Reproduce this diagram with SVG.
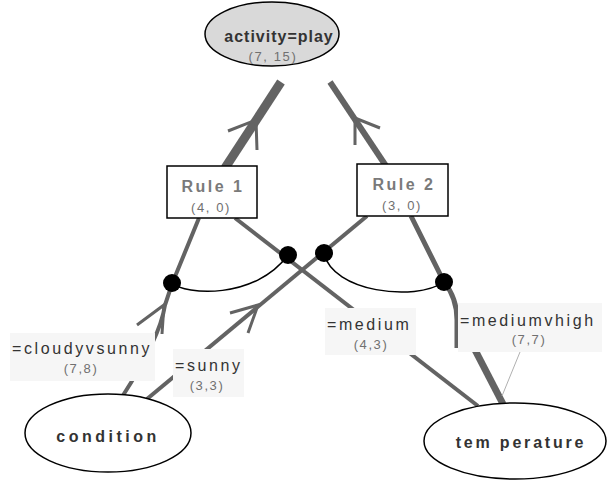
<svg xmlns="http://www.w3.org/2000/svg" width="608" height="481" viewBox="0 0 608 481">
<style>
.edge{fill:none;stroke:#636363}
.chev{fill:none;stroke:#636363;stroke-width:3}
.arc{fill:none;stroke:#000;stroke-width:1.5}
.dot{fill:#000}
.lbl{fill:#f6f6f6}
.lead{stroke:#b0b0b0;stroke-width:1}
.ell{fill:#fff;stroke:#000;stroke-width:1.5}
.box{fill:#fff;stroke:#000;stroke-width:1.5}
text{font-family:"Liberation Sans",Arial,sans-serif;text-anchor:middle}
.tn{font-weight:bold;font-size:16px;fill:#333;letter-spacing:3px}
.tr{font-weight:bold;font-size:16px;fill:#7a7a7a;letter-spacing:2.5px}
.tc{font-size:13px;fill:#707070;letter-spacing:1.6px}
.tl{font-size:16px;fill:#333;letter-spacing:2.6px;text-anchor:start}
</style>
<g id="connectors">
<path class="edge" stroke-width="9" d="M225,168 L281,82"/>
<path class="chev" d="M228,131 L256,120 L257,150"/>
<path class="edge" stroke-width="6" d="M386,166 L330,82"/>
<path class="chev" d="M355,145 L355,118 L380,128"/>
<path class="edge" stroke-width="4" d="M122,397 Q160,338 165,305 L172,284 L199,218"/>
<path class="chev" d="M137,325 L164,305 L162,334"/>
<path class="edge" stroke-width="4" d="M147,399 L367,216"/>
<path class="chev" d="M230,313 L258,305 L248,333"/>
<path class="edge" stroke-width="4" d="M235,218 L478,406"/>
<path class="edge" stroke-width="5" d="M411,216 L444,282 Q457,298 457,320 L457,348"/>
<path class="edge" stroke-width="7" d="M474,348 L503,404"/>
<path class="arc" d="M172,283 C185,295 255,300 288,255"/>
<path class="arc" d="M324,253 C332,292 415,302 444,282"/>
<circle class="dot" cx="172" cy="283" r="9"/>
<circle class="dot" cx="288" cy="255" r="9"/>
<circle class="dot" cx="324" cy="253" r="9"/>
<circle class="dot" cx="444" cy="282" r="9"/>
<line class="lead" x1="520" y1="352" x2="502" y2="396"/>
<g id="label-cloudyvsunny">
<rect class="lbl" x="10" y="333" width="145" height="48"/>
<text class="tl" x="12" y="354">=cloudyvsunny</text>
<text class="tc" x="81" y="373">(7,8)</text>
</g>
<g id="label-sunny">
<rect class="lbl" x="173" y="349" width="71" height="48"/>
<text class="tl" x="175" y="371">=sunny</text>
<text class="tc" x="207" y="390">(3,3)</text>
</g>
<g id="label-medium">
<rect class="lbl" x="325" y="308" width="91" height="47"/>
<text class="tl" x="327" y="330">=medium</text>
<text class="tc" x="371" y="349">(4,3)</text>
</g>
<g id="label-mediumvhigh">
<rect class="lbl" x="458" y="303" width="144" height="49"/>
<text class="tl" x="460" y="326">=mediumvhigh</text>
<text class="tc" x="529" y="344">(7,7)</text>
</g>
</g>
<g id="node-activity">
<ellipse class="ell" cx="272" cy="34" rx="67" ry="32" style="fill:#d9d9d9"/>
<text class="tn" x="279" y="42" style="letter-spacing:1px">activity=play</text>
<text class="tc" x="273" y="61">(7, 15)</text>
</g>
<g id="node-rule1">
<rect class="box" x="167" y="166" width="90" height="52"/>
<text class="tr" x="213" y="192">Rule 1</text>
<text class="tc" x="211" y="212">(4, 0)</text>
</g>
<g id="node-rule2">
<rect class="box" x="357" y="164" width="91" height="52"/>
<text class="tr" x="404" y="190">Rule 2</text>
<text class="tc" x="402" y="210">(3, 0)</text>
</g>
<g id="node-condition">
<ellipse class="ell" cx="108" cy="433" rx="83" ry="39"/>
<text class="tn" x="108" y="442" style="letter-spacing:3.5px">condition</text>
</g>
<g id="node-temperature">
<ellipse class="ell" cx="515" cy="441" rx="91" ry="38"/>
<text class="tn" x="521" y="448" style="letter-spacing:2.8px">tem perature</text>
</g>
</svg>
